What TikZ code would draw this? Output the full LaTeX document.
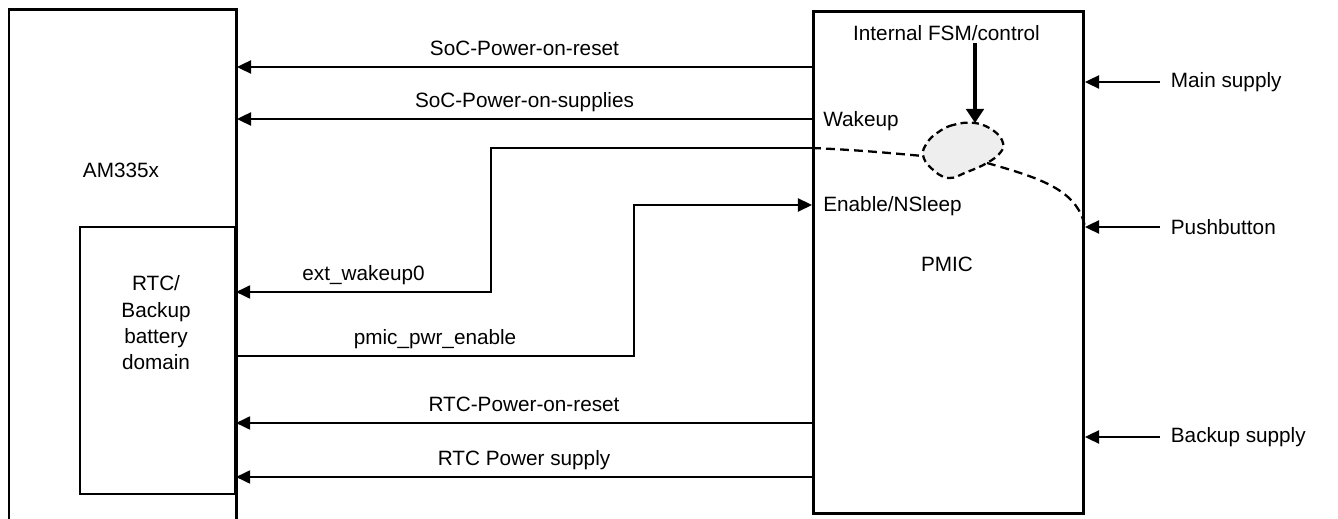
\documentclass[tikz,border=0pt]{standalone}
\usepackage{fontspec}
\setmainfont{Liberation Sans}
\usetikzlibrary{arrows.meta,calc,positioning}
\tikzset{
  box/.style={draw,line width=1.7pt,inner sep=0pt,anchor=north west},
  sig/.style={->,line width=0.9pt},
  lbl/.style={anchor=base,yshift=6.3pt,inner sep=0pt},
  pin/.style={anchor=base west,inner sep=0pt},
  wake/.style={dash pattern=on 5pt off 3pt,line width=1.3pt}
}

\begin{document}
\begin{tikzpicture}[x=0.02cm,y=-0.02cm,>={Triangle[length=8pt,width=7.5pt]},
    font=\fontsize{11.8}{15}\selectfont,every node/.style={align=center}]
    \useasboundingbox[fill=white] (0,0) rectangle (1338,519);
    % blocks
    \node[box,draw=none,minimum width=4.5cm,minimum height=10.3cm] (soc) at (9,10) {};
    \draw[line width=1.7pt] (soc.south west) -- (soc.north west) -- (soc.north east) -- (soc.south east);
    \node[box,line width=1.2pt,minimum width=3.1cm,minimum height=5.34cm] (rtc) at (79,226) {};
    \node[box,minimum width=5.4cm,minimum height=10.04cm] (pmic) at (812,10) {};
    \node (soclbl) at (121,170) {AM335x};
    \node (rtclbl) at (156,323) {RTC/\\Backup\\battery\\domain};
    \node (pmiclbl) at (947,264) {PMIC};
    \node[anchor=base] (fsm) at (946.5,41) {Internal FSM/control};
    \node[pin] (wake) at (823,127) {Wakeup};
    \node[pin] (nsleep) at (823,212) {Enable/NSleep};
    % fsm blob
    \coordinate (blobtop) at (975,123);
    \draw[wake,dash pattern=on 4pt off 2.5pt,fill=gray!13]
      plot[smooth cycle,tension=0.7] coordinates {(975,123) (953,125) (937,133) (927,143) (923,155)
        (931,168) (948,178) (967,172) (987,163) (1000,153) (1003,143) (994,131)};
    \draw[-{Triangle[length=8pt,width=10pt]},line width=1.8pt] (975,43) -- (blobtop);
    \draw[wake] (pmic.west |- 0,148) .. controls (860,150) and (900,154) .. (923,156);
    \draw[wake] (987,163) .. controls (1040,178) and (1078,190) .. (pmic.east |- 0,227);
    % signals to the SoC
    \draw[sig] (pmic.west |- 0,67) -- node[lbl] {SoC-Power-on-reset} (soc.east |- 0,67);
    \draw[sig] (pmic.west |- 0,119) -- node[lbl] {SoC-Power-on-supplies} (soc.east |- 0,119);
    \draw[sig] (pmic.west |- 0,148) -- (491,148) -- (491,292) -- node[lbl] {ext\_wakeup0} (rtc.east |- 0,292);
    \draw[sig] (rtc.east |- 0,356) -- node[lbl] {pmic\_pwr\_enable} (634,356) -- (634,205) -- (pmic.west |- 0,205);
    \draw[sig] (pmic.west |- 0,423) -- node[lbl] {RTC-Power-on-reset} (rtc.east |- 0,423);
    \draw[sig] (pmic.west |- 0,477) -- node[lbl] {RTC Power supply} (rtc.east |- 0,477);
    % supplies into the PMIC
    \coordinate (mainin) at (1160,82);
    \coordinate (pushin) at (1160,227);
    \coordinate (backin) at (1160,437);
    \node[right=6pt of mainin,inner sep=0pt] (mainsup) {Main supply};
    \node[right=6pt of pushin,inner sep=0pt] (pushbtn) {Pushbutton};
    \node[right=6pt of backin,inner sep=0pt] (backsup) {Backup supply};
    \draw[sig] (mainin) -- (pmic.east |- mainin);
    \draw[sig] (pushin) -- (pmic.east |- pushin);
    \draw[sig] (backin) -- (pmic.east |- backin);
\end{tikzpicture}
\end{document}
